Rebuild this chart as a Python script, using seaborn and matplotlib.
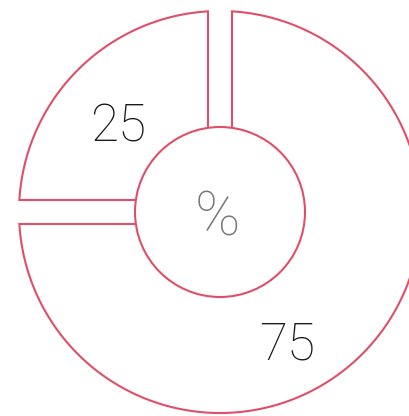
import numpy as np
import matplotlib.pyplot as plt
import seaborn as sns

# data
labels = ['25', '75']
values = [25, 75]
center_label = '%'

sns.set_style('white')
plt.rcParams['font.family'] = ['Roboto', 'DejaVu Sans']

edge_color = '#e04f69'
fig = plt.figure(figsize=(4.09, 4.16), dpi=100)
ax = fig.add_axes([0, 0, 1, 1])
ax.set_xlim(0, 409)
ax.set_ylim(0, 416)
ax.set_aspect('equal')
ax.axis('off')

cx, cy = 220, 204      # donut center (pixels)
R, r_in, g = 201, 85, 12  # outer radius, hole radius, half gap

# wedge polygons: start at 90 deg, go counterclockwise, parallel gaps between slices
start = 90.0
total = float(sum(values))
for v in values:
    a0 = start
    a1 = start + 360.0 * v / total
    t0, t1 = np.radians(a0), np.radians(a1)
    n0 = np.array([-np.sin(t0), np.cos(t0)])
    n1 = np.array([np.sin(t1), -np.cos(t1)])
    corner = np.linalg.solve(np.vstack([n0, n1]), [g, g])
    d = np.arcsin(g / R)
    arc = np.linspace(t0 + d, t1 - d, 200)
    xs = np.concatenate([[corner[0]], R * np.cos(arc), [corner[0]]]) + cx
    ys = np.concatenate([[corner[1]], R * np.sin(arc), [corner[1]]]) + cy
    ax.fill(xs, ys, facecolor='white', edgecolor=edge_color, linewidth=1.5, zorder=2)
    start = a1

hole = plt.Circle((cx, cy), r_in, facecolor='white', edgecolor=edge_color,
                  linewidth=1.5, zorder=3)
ax.add_patch(hole)

# slice labels
label_pos = [(-102, 85), (67, -134)]
for lab, (dx, dy) in zip(labels, label_pos):
    ax.text(cx + dx, cy + dy, lab, ha='center', va='center', fontsize=37,
            fontweight='light', color='#1a1a1a', zorder=4)

ax.text(cx - 3, cy - 7, center_label, ha='center', va='center', fontsize=44,
        fontweight='light', color='#7a7a7a', zorder=4)

fig.savefig('out.png', dpi=100, facecolor='white')
